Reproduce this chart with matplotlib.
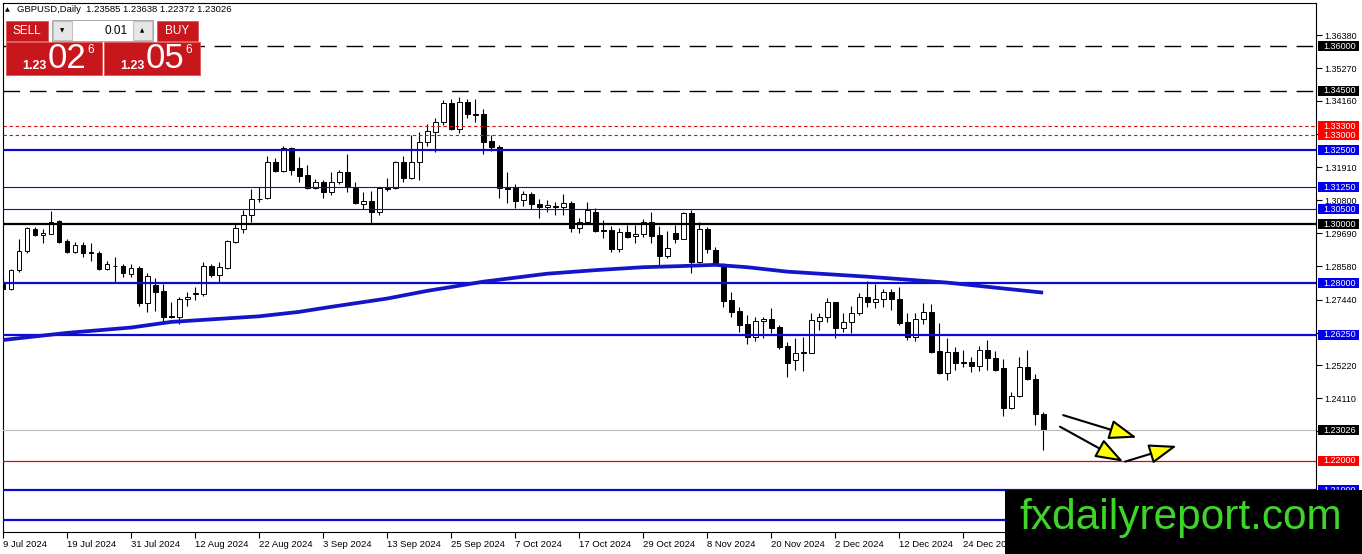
import matplotlib
matplotlib.use('Agg')
import matplotlib.pyplot as plt
import numpy as np
from matplotlib.patches import Rectangle, FancyArrowPatch

plt.rcParams['font.family'] = ['Liberation Sans', 'DejaVu Sans']

# ---- data ----
symbol = 'GBPUSD'
period = 'Daily'
bid = 1.23026
ask = 1.23056
lot = '0.01'

tick_dates = ['9 Jul 2024', '19 Jul 2024', '31 Jul 2024', '12 Aug 2024', '22 Aug 2024',
              '3 Sep 2024', '13 Sep 2024', '25 Sep 2024', '7 Oct 2024', '17 Oct 2024',
              '29 Oct 2024', '8 Nov 2024', '20 Nov 2024', '2 Dec 2024', '12 Dec 2024',
              '24 Dec 2024']

opens = [1.2796, 1.2780, 1.2844, 1.2910, 1.2982, 1.2962, 1.2967, 1.3010, 1.2943, 1.2904,
         1.2929, 1.2906, 1.2903, 1.2847, 1.2858, 1.2858, 1.2830, 1.2850, 1.2734, 1.2794,
         1.2774, 1.2688, 1.2687, 1.2745, 1.2766, 1.2763, 1.2859, 1.2828, 1.2852, 1.2938,
         1.2983, 1.3030, 1.3085, 1.3087, 1.3209, 1.3179, 1.3258, 1.3188, 1.3166, 1.3121,
         1.3141, 1.3109, 1.3141, 1.3175, 1.3123, 1.3069, 1.3078, 1.3040, 1.3122, 1.3121,
         1.3211, 1.3156, 1.3209, 1.3278, 1.3310, 1.3344, 1.3408, 1.3320, 1.3411, 1.3371,
         1.3371, 1.3281, 1.3261, 1.3123, 1.3123, 1.3080, 1.3101, 1.3068, 1.3056, 1.3061,
         1.3056, 1.3070, 1.2985, 1.3006, 1.3042, 1.2980, 1.2980, 1.2917, 1.2972, 1.2959,
         1.2966, 1.3006, 1.2963, 1.2893, 1.2969, 1.2949, 1.3036, 1.2873, 1.2982, 1.2912,
         1.2858, 1.2743, 1.2706, 1.2661, 1.2619, 1.2673, 1.2678, 1.2651, 1.2586, 1.2540,
         1.2568, 1.2565, 1.2673, 1.2685, 1.2735, 1.2650, 1.2668, 1.2698, 1.2754, 1.2735,
         1.2745, 1.2769, 1.2745, 1.2668, 1.2617, 1.2678, 1.2704, 1.2571, 1.2497, 1.2566,
         1.2534, 1.2534, 1.2521, 1.2574, 1.2546, 1.2512, 1.2377, 1.2420, 1.2516, 1.2475,
         1.23585]
highs = [1.2824, 1.2848, 1.2948, 1.2991, 1.2991, 1.2982, 1.3044, 1.3014, 1.2949, 1.2940,
         1.2940, 1.2937, 1.2910, 1.2876, 1.2887, 1.2865, 1.2865, 1.2858, 1.2833, 1.2816,
         1.2796, 1.2735, 1.2752, 1.2771, 1.2788, 1.2873, 1.2865, 1.2873, 1.2946, 1.3002,
         1.3047, 1.3118, 1.3126, 1.3231, 1.3224, 1.3265, 1.3260, 1.3226, 1.3199, 1.3152,
         1.3149, 1.3175, 1.3184, 1.3236, 1.3141, 1.3107, 1.3112, 1.3123, 1.3154, 1.3213,
         1.3231, 1.3301, 1.3312, 1.3337, 1.3357, 1.3419, 1.3422, 1.3430, 1.3422, 1.3422,
         1.3389, 1.3301, 1.3267, 1.3175, 1.3134, 1.3112, 1.3107, 1.3084, 1.3081, 1.3075,
         1.3102, 1.3078, 1.3019, 1.3073, 1.3053, 1.3012, 1.2993, 1.2985, 1.2997, 1.2997,
         1.3016, 1.3042, 1.2993, 1.2977, 1.2997, 1.3042, 1.3047, 1.3008, 1.2989, 1.2923,
         1.2869, 1.2771, 1.2718, 1.2692, 1.2687, 1.2687, 1.2715, 1.2659, 1.2602, 1.2614,
         1.2619, 1.2698, 1.2698, 1.2749, 1.2737, 1.2698, 1.2723, 1.2768, 1.2808, 1.2797,
         1.2779, 1.2779, 1.2786, 1.2698, 1.2698, 1.2732, 1.2730, 1.2666, 1.2614, 1.2585,
         1.2574, 1.2549, 1.2588, 1.2608, 1.2572, 1.2543, 1.2433, 1.2549, 1.2574, 1.2493,
         1.23638]
lows = [1.2777, 1.2777, 1.2839, 1.2901, 1.2960, 1.2937, 1.2966, 1.2935, 1.2901, 1.2901,
        1.2887, 1.2876, 1.2845, 1.2845, 1.2805, 1.2820, 1.2820, 1.2723, 1.2704, 1.2707,
        1.2670, 1.2681, 1.2662, 1.2723, 1.2743, 1.2757, 1.2820, 1.2805, 1.2849, 1.2937,
        1.2971, 1.3008, 1.3075, 1.3084, 1.3175, 1.3177, 1.3166, 1.3143, 1.3118, 1.3117,
        1.3087, 1.3098, 1.3134, 1.3107, 1.3067, 1.3051, 1.3002, 1.3030, 1.3112, 1.3118,
        1.3143, 1.3152, 1.3149, 1.3265, 1.3244, 1.3335, 1.3318, 1.3307, 1.3357, 1.3346,
        1.3236, 1.3247, 1.3089, 1.3070, 1.3055, 1.3062, 1.3051, 1.3019, 1.3040, 1.3030,
        1.3030, 1.2974, 1.2969, 1.3002, 1.2974, 1.2953, 1.2906, 1.2906, 1.2954, 1.2937,
        1.2957, 1.2935, 1.2858, 1.2884, 1.2935, 1.2948, 1.2833, 1.2867, 1.2901, 1.2861,
        1.2718, 1.2685, 1.2636, 1.2594, 1.2606, 1.2614, 1.2633, 1.2577, 1.2484, 1.2507,
        1.2504, 1.2563, 1.2642, 1.2670, 1.2616, 1.2636, 1.2633, 1.2692, 1.2720, 1.2715,
        1.2720, 1.2709, 1.2659, 1.2608, 1.2606, 1.2662, 1.2563, 1.2493, 1.2473, 1.2507,
        1.2518, 1.2501, 1.2504, 1.2507, 1.2504, 1.2351, 1.2374, 1.2414, 1.2473, 1.2321,
        1.22372]
closes = [1.2780, 1.2845, 1.2910, 1.2985, 1.2962, 1.2971, 1.3006, 1.2938, 1.2904, 1.2929,
          1.2901, 1.2902, 1.2847, 1.2865, 1.2857, 1.2833, 1.2850, 1.2734, 1.2824, 1.2771,
          1.2687, 1.2685, 1.2745, 1.2754, 1.2762, 1.2859, 1.2828, 1.2854, 1.2943, 1.2985,
          1.3030, 1.3083, 1.3083, 1.3211, 1.3179, 1.3256, 1.3184, 1.3163, 1.3121, 1.3141,
          1.3109, 1.3141, 1.3175, 1.3126, 1.3070, 1.3078, 1.3040, 1.3121, 1.3120, 1.3211,
          1.3156, 1.3209, 1.3278, 1.3314, 1.3344, 1.3408, 1.3320, 1.3411, 1.3371, 1.3368,
          1.3278, 1.3261, 1.3121, 1.3118, 1.3079, 1.3100, 1.3067, 1.3056, 1.3064, 1.3057,
          1.3070, 1.2985, 1.3006, 1.3048, 1.2977, 1.2977, 1.2917, 1.2972, 1.2957, 1.2966,
          1.3006, 1.2959, 1.2893, 1.2918, 1.2949, 1.3036, 1.2873, 1.2982, 1.2914, 1.2865,
          1.2741, 1.2704, 1.2659, 1.2619, 1.2673, 1.2678, 1.2647, 1.2585, 1.2529, 1.2563,
          1.2564, 1.2676, 1.2685, 1.2735, 1.2650, 1.2668, 1.2698, 1.2754, 1.2737, 1.2745,
          1.2769, 1.2745, 1.2666, 1.2617, 1.2678, 1.2704, 1.2568, 1.2497, 1.2566, 1.2531,
          1.2531, 1.2521, 1.2574, 1.2546, 1.2507, 1.2377, 1.2420, 1.2516, 1.2475, 1.2358,
          1.23026]

# moving average, read at a few bars
ma_bar = [0, 8, 16, 21, 32, 37, 41, 48, 53, 56, 60, 68, 74, 80, 85, 89, 93, 98, 108, 118, 130]
ma_val = [1.2608, 1.2632, 1.2650, 1.2669, 1.2688, 1.2703, 1.2720, 1.2748, 1.2774, 1.2787,
          1.2805, 1.2832, 1.2844, 1.2854, 1.2858, 1.2862, 1.2854, 1.2839, 1.2822, 1.2802,
          1.2768]

# horizontal levels
dashed_levels = [1.3600, 1.3450]
red_dotted_levels = [1.3330, 1.3300]
thick_blue_levels = [1.3250, 1.2800, 1.2625, 1.2100]
hidden_blue_levels = [1.2000]   # its price tag sits under the watermark
thin_blue_levels = [1.3125, 1.3050]
black_levels = [1.3000]
red_levels = [1.2200]

grid_ticks = [1.36380, 1.35270, 1.34160, 1.33050, 1.31910, 1.30800, 1.29690, 1.28580,
              1.27440, 1.26330, 1.25220, 1.24110, 1.23000]

# drawn arrows (bar index, price)
arrow_x0 = [132.5, 132.1, 140.25]
arrow_y0 = [1.2354, 1.2315, 1.2197]
arrow_x1 = [141.7, 140.0, 146.7]
arrow_y1 = [1.2278, 1.2197, 1.2250]

# ---- figure ----
W, H = 1362, 554
fig = plt.figure(figsize=(W / 100, H / 100), dpi=100)
ax = fig.add_axes([3 / W, 1 - 532 / H, 1313 / W, 529 / H])
ax.set_xlim(0, 164.1)
ax.set_ylim(1.1959, 1.3747)
for sp in ax.spines.values():
    sp.set_color('black')
    sp.set_linewidth(0.8)

x = np.arange(len(opens))
o = np.array(opens)
c = np.array(closes)
up = c >= o
ax.vlines(x, lows, highs, color='black', lw=0.8, zorder=2)
body_h = np.maximum(np.abs(c - o), 0.00012)
ax.bar(x, body_h, bottom=np.minimum(o, c), width=0.62,
       color=np.where(up, 'white', 'black'), edgecolor='black', linewidth=0.7, zorder=3)

blue = '#0a0ad2'
for lv in dashed_levels:
    ax.axhline(lv, color='black', lw=1.0, ls=(0, (12, 7)), zorder=4)
for lv in red_dotted_levels:
    ax.axhline(lv, color='#d01010', lw=0.8, ls=(0, (3, 2.5)), zorder=4)
for lv in thick_blue_levels + hidden_blue_levels:
    ax.axhline(lv, color=blue, lw=1.6, zorder=4)
for lv in thin_blue_levels:
    ax.axhline(lv, color=blue, lw=0.8, zorder=4)
for lv in black_levels:
    ax.axhline(lv, color='black', lw=1.6, zorder=4)
for lv in red_levels:
    ax.axhline(lv, color='#d01010', lw=0.9, zorder=4)
ax.axhline(bid, color='#bdbdbd', lw=0.8, zorder=4)

ax.plot(ma_bar, ma_val, color='#1414c8', lw=2.7, zorder=5, solid_capstyle='butt')

for xs, ys, xe, ye in zip(arrow_x0, arrow_y0, arrow_x1, arrow_y1):
    ax.add_patch(FancyArrowPatch((xs, ys), (xe, ye),
                                 arrowstyle='-|>,head_length=0.95,head_width=0.34',
                                 mutation_scale=18, lw=1.5, edgecolor='black',
                                 facecolor='#ffff00', shrinkA=0, shrinkB=0, zorder=8))

# axes ticks
ax.yaxis.tick_right()
ax.set_yticks(grid_ticks)
ax.set_yticklabels([f'{v:.5f}' for v in grid_ticks])
ax.tick_params(axis='y', direction='out', length=4, width=0.8, pad=2, labelsize=6.5)
ax.set_xticks(x[::8][:len(tick_dates)])
ax.set_xticklabels(tick_dates, ha='left')
ax.tick_params(axis='x', direction='out', length=4, width=0.8, pad=2, labelsize=6.8)

# price tags on the right scale
ytr = ax.get_yaxis_transform()
box_h = 10 * (1.3747 - 1.1959) / 529
labels = ([(lv, 'black') for lv in dashed_levels] +
          [(lv, '#ff0000') for lv in red_dotted_levels] +
          [(lv, '#0000ee') for lv in thick_blue_levels + thin_blue_levels] +
          [(lv, 'black') for lv in black_levels] +
          [(lv, '#ff0000') for lv in red_levels] +
          [(bid, 'black')])
for lv, fc in labels:
    ax.add_patch(Rectangle((1315 / 1313, lv - box_h / 2), 41 / 1313, box_h, transform=ytr,
                           facecolor=fc, edgecolor='none', clip_on=False, zorder=6))
    ax.text(1320 / 1313, lv, f'{lv:.5f}', transform=ytr, color='white', fontsize=6.5,
            va='center', ha='left', clip_on=False, zorder=7)


def px_rect(x0, y0, x1, y1, **kw):
    fig.patches.append(Rectangle((x0 / W, 1 - y1 / H), (x1 - x0) / W, (y1 - y0) / H,
                                 transform=fig.transFigure, **kw))


def px_text(xp, yp, s, **kw):
    fig.text(xp / W, 1 - yp / H, s, **kw)


# header
px_text(5, 10, '▲', fontsize=4.5, va='center', family=['DejaVu Sans'])
px_text(17, 10, f'{symbol},{period}  {opens[-1]:.5f} {highs[-1]:.5f} {lows[-1]:.5f} {closes[-1]:.5f}',
        fontsize=6.8, va='center')

# one-click trading panel
red = '#c8161d'
px_rect(6, 21, 48, 41, facecolor=red, edgecolor='#e05555', lw=0.6, zorder=5)
px_text(27, 31, 'SELL', color='white', fontsize=8.5, ha='center', va='center', zorder=6)
px_rect(157, 21, 198, 41, facecolor=red, edgecolor='#e05555', lw=0.6, zorder=5)
px_text(177.5, 31, 'BUY', color='white', fontsize=8.5, ha='center', va='center', zorder=6)
px_rect(52, 20, 153, 41, facecolor='white', edgecolor='#9a9a9a', lw=0.6, zorder=5)
px_rect(53, 21, 72, 40, facecolor='#e6e6e6', edgecolor='#b5b5b5', lw=0.6, zorder=5)
px_rect(133, 21, 152, 40, facecolor='#e6e6e6', edgecolor='#b5b5b5', lw=0.6, zorder=5)
px_text(62.5, 30.5, '▼', fontsize=4, ha='center', va='center', family=['DejaVu Sans'], zorder=6)
px_text(142.5, 30.5, '▲', fontsize=4, ha='center', va='center', family=['DejaVu Sans'], zorder=6)
px_text(128, 30.5, lot, fontsize=8.5, ha='right', va='center', zorder=6)

for x0, price in [(6, bid), (104, ask)]:
    s = f'{price:.5f}'
    px_rect(x0, 42, x0 + 96, 75, facecolor=red, edgecolor='#e05555', lw=0.6, zorder=5)
    px_text(x0 + 16, 66, s[:4], color='white', fontsize=9, fontweight='bold',
            ha='left', va='center', zorder=6)
    px_text(x0 + 42, 59, s[4:6], color='white', fontsize=25, ha='left', va='center', zorder=6)
    px_text(x0 + 81, 50, s[6], color='white', fontsize=8.5, ha='left', va='center', zorder=6)

# watermark
px_rect(1005, 490, 1362, 554, facecolor='black', edgecolor='none', zorder=10)
px_text(1181, 518, 'fxdailyreport.com', color='#3fd42a', fontsize=30.5,
        ha='center', va='center', zorder=11)

fig.savefig('out.png', dpi=100)
